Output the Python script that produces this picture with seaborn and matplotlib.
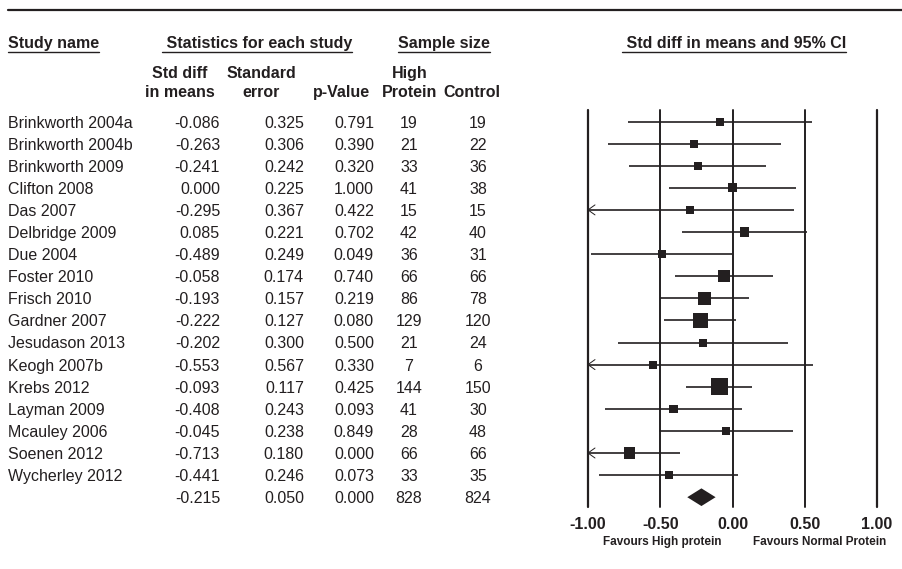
import numpy as np
import pandas as pd
import matplotlib
matplotlib.use("Agg")
import matplotlib.pyplot as plt
import seaborn as sns
from matplotlib.lines import Line2D

# ---------------- data ----------------
studies = ["Brinkworth 2004a", "Brinkworth 2004b", "Brinkworth 2009", "Clifton 2008",
           "Das 2007", "Delbridge 2009", "Due 2004", "Foster 2010", "Frisch 2010",
           "Gardner 2007", "Jesudason 2013", "Keogh 2007b", "Krebs 2012",
           "Layman 2009", "Mcauley 2006", "Soenen 2012", "Wycherley 2012"]
std_diff = [-0.086, -0.263, -0.241, 0.000, -0.295, 0.085, -0.489, -0.058, -0.193,
            -0.222, -0.202, -0.553, -0.093, -0.408, -0.045, -0.713, -0.441]
std_err = [0.325, 0.306, 0.242, 0.225, 0.367, 0.221, 0.249, 0.174, 0.157,
           0.127, 0.300, 0.567, 0.117, 0.243, 0.238, 0.180, 0.246]
p_values = [0.791, 0.390, 0.320, 1.000, 0.422, 0.702, 0.049, 0.740, 0.219,
            0.080, 0.500, 0.330, 0.425, 0.093, 0.849, 0.000, 0.073]
n_high = [19, 21, 33, 41, 15, 42, 36, 66, 86, 129, 21, 7, 144, 41, 28, 66, 33]
n_control = [19, 22, 36, 38, 15, 40, 31, 66, 78, 120, 24, 6, 150, 30, 48, 66, 35]
ci_lower = [-0.723, -0.863, -0.715, -0.441, -1.014, -0.348, -0.977, -0.399, -0.501,
            -0.471, -0.790, -1.664, -0.322, -0.884, -0.511, -1.066, -0.923]
ci_upper = [0.551, 0.337, 0.233, 0.441, 0.424, 0.518, -0.001, 0.283, 0.115,
            0.027, 0.386, 0.558, 0.136, 0.068, 0.421, -0.360, 0.041]
summary_diff = -0.215
summary_se = 0.050
summary_p = 0.000
summary_high = 828
summary_control = 824
summary_lower = -0.313
summary_upper = -0.117
x_ticks = [-1.0, -0.5, 0.0, 0.5, 1.0]
x_tick_labels = ["-1.00", "-0.50", "0.00", "0.50", "1.00"]

# ---------------- style ----------------
sns.set_theme(style="white")
plt.rcParams["font.family"] = ["Liberation Sans", "DejaVu Sans"]
ink = "#231f20"

W, H = 902, 569
fig = plt.figure(figsize=(W / 100, H / 100), dpi=100)


def fx(x):
    return x / W


def fy(y):
    return 1 - y / H


row0, step = 121.5, 22.1
top_px, bot_px = 110, 507
left_px, right_px = 588, 877
y_top = (top_px - row0) / step
y_bot = (bot_px - row0) / step

ax = fig.add_axes([fx(left_px), fy(bot_px), (right_px - left_px) / W, (bot_px - top_px) / H])
ax.set_xlim(-1, 1)
ax.set_ylim(y_bot, y_top)
for s in ax.spines.values():
    s.set_visible(False)
ax.set_facecolor("none")

n = len(studies)
df = pd.DataFrame({"study": studies, "d": std_diff, "se": std_err,
                   "lo": ci_lower, "hi": ci_upper, "row": np.arange(n)})
df["side_px"] = np.maximum(8.0, 2.0 / df["se"])
df["area"] = (df["side_px"] * 0.72) ** 2

# vertical reference lines
for xv in x_ticks:
    ax.axvline(xv, color=ink, lw=1.6 if abs(xv) == 1 else 1.4, zorder=1, clip_on=False)

# CI lines
ax.hlines(df["row"], np.maximum(df["lo"], -1), np.minimum(df["hi"], 1),
          color=ink, lw=1.2, zorder=2)
# arrows where CI is truncated
ax_len = 7 / ((right_px - left_px) / 2)
ax_h = 5 / step
for _, r in df[df["lo"] < -1].iterrows():
    ax.plot([-1 + ax_len, -1, -1 + ax_len], [r["row"] - ax_h, r["row"], r["row"] + ax_h],
            color=ink, lw=0.7, zorder=2, clip_on=False)

# squares
sns.scatterplot(data=df, x="d", y="row", marker="s", s=df["area"].values,
                color=ink, linewidth=0, ax=ax, legend=False, zorder=3, clip_on=False)

# summary diamond
sy = n
dh = 0.4
ax.fill([summary_lower, summary_diff, summary_upper, summary_diff],
        [sy, sy - dh, sy, sy + dh], color=ink, lw=0, zorder=3, clip_on=False)

ax.set_xlabel("")
ax.set_ylabel("")
ax.set_yticks([])
ax.set_xticks(x_ticks)
ax.set_xticklabels(x_tick_labels, fontsize=11.5, fontweight="bold", color=ink)
ax.tick_params(axis="x", length=0, pad=7)

# ---------------- table text ----------------
fs = 11.5
base = 6.0
for i in range(n):
    yb = fy(row0 + step * i + base)
    fig.text(fx(8), yb, studies[i], ha="left", va="baseline", fontsize=fs, color=ink)
    fig.text(fx(220), yb, f"{std_diff[i]:.3f}", ha="right", va="baseline", fontsize=fs, color=ink)
    fig.text(fx(304), yb, f"{std_err[i]:.3f}", ha="right", va="baseline", fontsize=fs, color=ink)
    fig.text(fx(374), yb, f"{p_values[i]:.3f}", ha="right", va="baseline", fontsize=fs, color=ink)
    fig.text(fx(409), yb, f"{n_high[i]}", ha="center", va="baseline", fontsize=fs, color=ink)
    fig.text(fx(478), yb, f"{n_control[i]}", ha="center", va="baseline", fontsize=fs, color=ink)

yb = fy(row0 + step * n + base)
fig.text(fx(220), yb, f"{summary_diff:.3f}", ha="right", va="baseline", fontsize=fs, color=ink)
fig.text(fx(304), yb, f"{summary_se:.3f}", ha="right", va="baseline", fontsize=fs, color=ink)
fig.text(fx(374), yb, f"{summary_p:.3f}", ha="right", va="baseline", fontsize=fs, color=ink)
fig.text(fx(409), yb, f"{summary_high}", ha="center", va="baseline", fontsize=fs, color=ink)
fig.text(fx(478), yb, f"{summary_control}", ha="center", va="baseline", fontsize=fs, color=ink)

# headers
hdr = []
hdr.append(fig.text(fx(8), fy(48), "Study name", ha="left", va="baseline",
                    fontsize=fs, fontweight="bold", color=ink))
hdr.append(fig.text(fx(257), fy(48), " Statistics for each study", ha="center", va="baseline",
                    fontsize=fs, fontweight="bold", color=ink))
hdr.append(fig.text(fx(444), fy(48), "Sample size", ha="center", va="baseline",
                    fontsize=fs, fontweight="bold", color=ink))
hdr.append(fig.text(fx(734), fy(48), " Std diff in means and 95% CI", ha="center", va="baseline",
                    fontsize=fs, fontweight="bold", color=ink))

sub = [(180, "Std diff", "in means"), (261, "Standard", "error"), (341, None, "p-Value"),
       (410, "High", "Protein"), (472, None, "Control")]
for x, l1, l2 in sub:
    if l1:
        fig.text(fx(x), fy(78), l1, ha="center", va="baseline", fontsize=fs,
                 fontweight="bold", color=ink)
    fig.text(fx(x), fy(97), l2, ha="center", va="baseline", fontsize=fs,
             fontweight="bold", color=ink)

fig.text(fx(662), fy(545), "Favours High protein", ha="center", va="baseline",
         fontsize=8.5, fontweight="bold", color=ink)
fig.text(fx(820), fy(545), "Favours Normal Protein", ha="center", va="baseline",
         fontsize=8.5, fontweight="bold", color=ink)

# top rule
fig.add_artist(Line2D([fx(8), 1.0], [fy(10), fy(10)], color=ink, lw=1.6, transform=fig.transFigure))

# underlines
fig.canvas.draw()
rend = fig.canvas.get_renderer()
for t in hdr:
    bb = t.get_window_extent(rend)
    fig.add_artist(Line2D([bb.x0 / W, bb.x1 / W], [fy(51.5), fy(51.5)], color=ink, lw=1.0,
                          transform=fig.transFigure))

fig.savefig("out.png", dpi=100, facecolor="white")
